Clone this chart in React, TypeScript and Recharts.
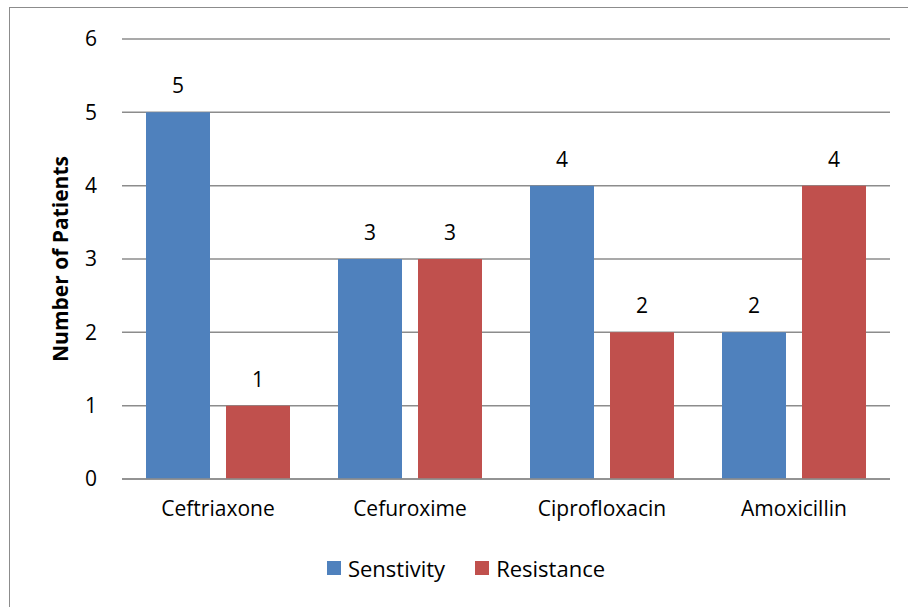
import React from "react";
import { BarChart, Bar, XAxis, YAxis, CartesianGrid, Legend, LabelList } from "recharts";

const drugs = ["Ceftriaxone", "Cefuroxime", "Ciprofloxacin", "Amoxicillin"];
const sensitivity = [5, 3, 4, 2];
const resistance = [1, 3, 2, 4];
const yTicks = [0, 1, 2, 3, 4, 5, 6];

const seriesNames = { sens: "Senstivity", res: "Resistance" };
const colors = { sens: "#4F81BD", res: "#C0504D" };

const data = drugs.map((name, i) => ({ name, sens: sensitivity[i], res: resistance[i] }));

const FONT = "Open Sans, Calibri, sans-serif";

function LegendContent() {
  const items = [
    { key: "sens", label: seriesNames.sens, color: colors.sens },
    { key: "res", label: seriesNames.res, color: colors.res },
  ];
  return (
    <div style={{ display: "flex", justifyContent: "center", gap: 30, paddingLeft: 24, fontFamily: FONT, fontSize: 22, color: "#000" }}>
      {items.map((it) => (
        <div key={it.key} style={{ display: "flex", alignItems: "center" }}>
          <span style={{ display: "inline-block", width: 14, height: 14, background: it.color, marginRight: 7 }} />
          <span>{it.label}</span>
        </div>
      ))}
    </div>
  );
}

export default function App() {
  return (
    <div style={{ position: "absolute", left: 0, top: 0, width: 908, height: 607, overflow: "hidden", background: "#fff" }}>
      <div style={{ position: "absolute", left: 9, top: 7, width: 940, height: 640, border: "1px solid #8c8c8c" }} />
      <BarChart
        width={908}
        height={607}
        data={data}
        margin={{ top: 39, right: 18, bottom: 0, left: 0 }}
        barCategoryGap={24}
        barGap={16}
        style={{ position: "absolute", left: 0, top: 0 }}
      >
        <CartesianGrid vertical={false} stroke="#8c8c8c" strokeWidth={1.5} />
        <XAxis
          dataKey="name"
          height={128}
          tickLine={false}
          tickSize={0}
          tickMargin={22}
          axisLine={{ stroke: "#8c8c8c", strokeWidth: 1.5 }}
          tick={{ fill: "#000", fontSize: 21, fontFamily: FONT }}
        />
        <YAxis
          width={122}
          domain={[0, 6]}
          ticks={yTicks}
          tickLine={false}
          tickSize={0}
          tickMargin={25}
          axisLine={false}
          tick={{ fill: "#000", fontSize: 21, fontFamily: FONT }}
          label={{ value: "Number of Patients", angle: -90, position: "center", fill: "#000", fontSize: 21, fontWeight: "bold", fontFamily: FONT }}
        />
        <Legend
          verticalAlign="middle"
          layout="horizontal"
          align="center"
          content={<LegendContent />}
          wrapperStyle={{ top: 553, left: 0, width: 908 }}
        />
        <Bar dataKey="sens" name={seriesNames.sens} fill={colors.sens} isAnimationActive={false}>
          <LabelList dataKey="sens" position="top" offset={19} fill="#000" fontSize={21} fontFamily={FONT} />
        </Bar>
        <Bar dataKey="res" name={seriesNames.res} fill={colors.res} isAnimationActive={false}>
          <LabelList dataKey="res" position="top" offset={19} fill="#000" fontSize={21} fontFamily={FONT} />
        </Bar>
      </BarChart>
    </div>
  );
}
